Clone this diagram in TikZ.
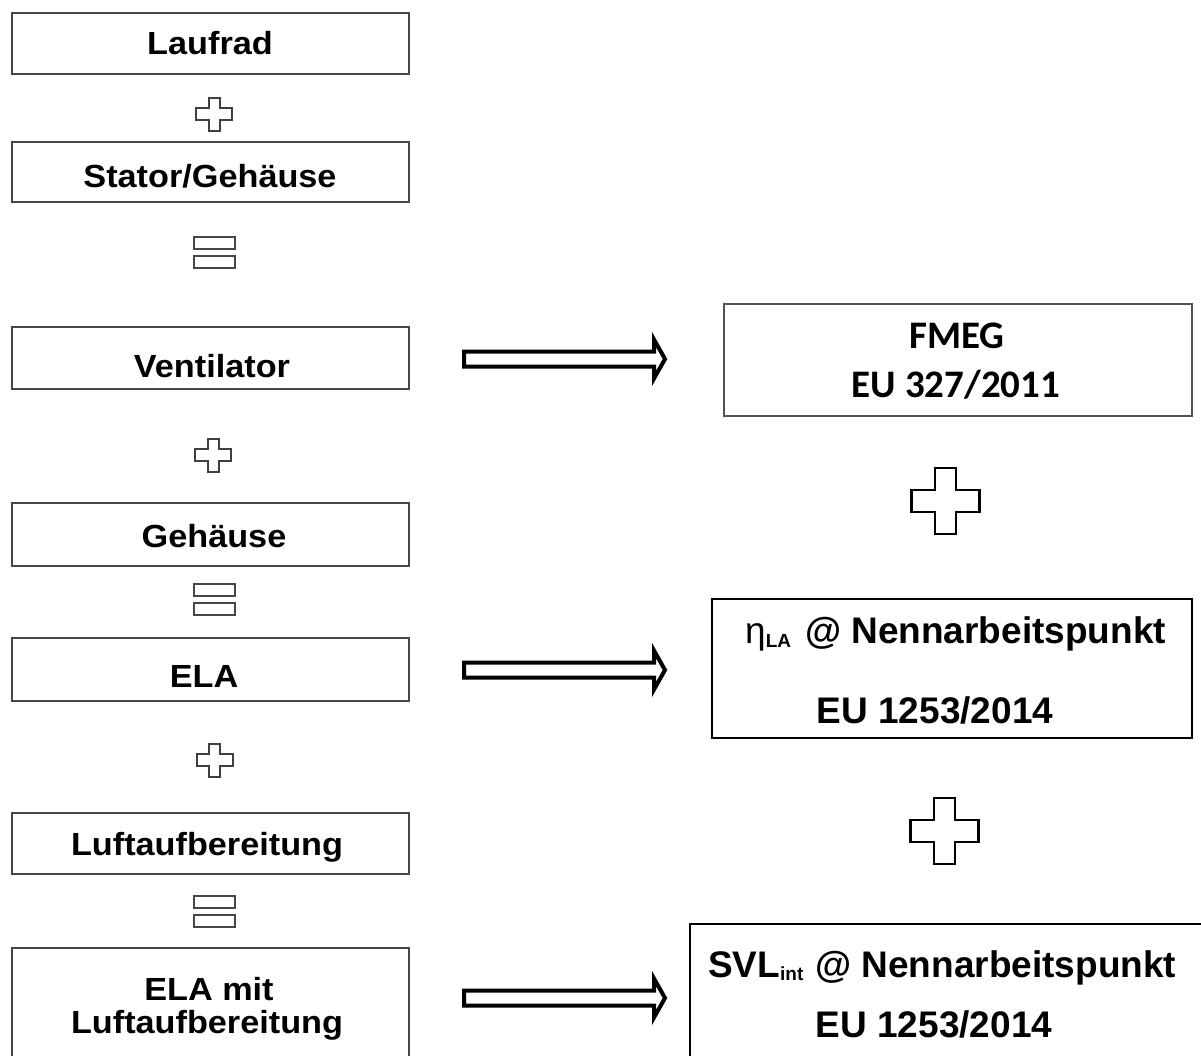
\documentclass[tikz,border=0pt]{standalone}
\usepackage{fontspec}
\setmainfont{Liberation Sans}
\newfontfamily\leftfont{Liberation Sans}[FakeStretch=1.07]
\newfontfamily\calfont{Carlito}
\usetikzlibrary{calc}
\tikzset{
  lbox/.style={draw=black!72, line width=2pt, minimum width=397pt, inner sep=0pt},
  rbox/.style={draw=black, line width=2pt, inner sep=0pt},
  fbox/.style={draw=black!68, line width=2.5pt, inner sep=0pt},
  ltext/.style={anchor=base, inner sep=0pt, font=\leftfont\bfseries\fontsize{32}{34}\selectfont},
  rtext/.style={inner sep=0pt, font=\bfseries\fontsize{37}{40}\selectfont},
  ftext/.style={anchor=base, inner sep=0pt, font=\calfont\bfseries\fontsize{39}{42}\selectfont},
  splusline/.style={draw=black!75, line width=2pt, line join=miter},
  bplusline/.style={draw=black, line width=2.6pt, line join=miter},
  eqline/.style={draw=black!72, line width=2pt},
  arrowline/.style={draw=black, line width=4pt, line join=miter},
  smallplus/.pic={\path[splusline] (-5.5,-16.5) -- (5.5,-16.5) -- (5.5,-6) -- (18,-6) -- (18,6) -- (5.5,6) -- (5.5,16.5) -- (-5.5,16.5) -- (-5.5,6) -- (-18,6) -- (-18,-6) -- (-5.5,-6) -- cycle;},
  bigplus/.pic={\path[bplusline] (-10.5,-33) -- (10.5,-33) -- (10.5,-11) -- (34,-11) -- (34,11) -- (10.5,11) -- (10.5,33) -- (-10.5,33) -- (-10.5,11) -- (-34,11) -- (-34,-11) -- (-10.5,-11) -- cycle;},
  eqsign/.pic={\path[eqline] (-20.5,-15.5) rectangle (20.5,-3.5) (-20.5,3.5) rectangle (20.5,15.5);}
}
\newcommand\BlockArrow[2]{%
  \path[arrowline] let \p1=(#1), \p2=(#2) in
    (\x1,\y1+7.5) -- (\x2-11,\y1+7.5) -- (\x2-11,\y1+19.5) -- (\x2,\y1)
    -- (\x2-11,\y1-19.5) -- (\x2-11,\y1-7.5) -- (\x1,\y1-7.5) -- cycle;}
\begin{document}
\begin{tikzpicture}[x=1pt,y=-1pt]
\clip (0,0) rectangle (1201,1056);
\fill[white] (0,0) rectangle (1201,1056);

% left column boxes
\node[lbox, minimum height=61pt] (laufrad) at (210.5,43.5) {};
\node[lbox, minimum height=60pt] (stator) at (210.5,172) {};
\node[lbox, minimum height=62pt] (vent) at (210.5,358) {};
\node[lbox, minimum height=63pt] (geh) at (210.5,534.5) {};
\node[lbox, minimum height=63pt] (ela) at (210.5,669.5) {};
\node[lbox, minimum height=61pt] (luft) at (210.5,843.5) {};
\node[lbox, minimum height=150pt] (elamit) at (210.5,1023) {};

\node[ltext] (tlaufrad) at (210,55) {Laufrad};
\node[ltext] (tstator) at (210,188) {Stator/Gehäuse};
\node[ltext] (tvent) at (212,377) {Ventilator};
\node[ltext] (tgeh) at (214,547) {Gehäuse};
\node[ltext] (tela) at (204,687) {ELA};
\node[ltext] (tluft) at (207,855) {Luftaufbereitung};
\node[ltext] (telamit1) at (209,1000) {ELA mit};
\node[ltext] (telamit2) at (207,1033) {Luftaufbereitung};

% operators left
\pic at (214,114.5) {smallplus};
\pic at (214.5,252.5) {eqsign};
\pic at (213,455) {smallplus};
\pic at (214.5,599.5) {eqsign};
\pic at (214.5,760) {smallplus};
\pic at (214.5,911) {eqsign};

% right boxes
\node[fbox, minimum width=468pt, minimum height=112pt] (fmeg) at (958,360) {};
\node[ftext] (tfmeg1) at (957,348) {FMEG};
\node[ftext] (tfmeg2) at (956,397) {EU 327/2011};

\node[rbox, minimum width=480pt, minimum height=139pt] (eta) at (952,668.5) {};
\node[rtext, anchor=base west] (teta1) at (745,643) {{\mdseries η}\raisebox{-4pt}{\fontsize{19}{19}\selectfont LA}\hspace{14pt}@ Nennarbeitspunkt};
\node[rtext, anchor=base] (teta2) at (935,723) {EU 1253/2014};

\node[rbox, minimum width=524pt, minimum height=144pt] (svl) at (952,996) {};
\node[rtext, anchor=base west] (tsvl1) at (708,977) {SVL\raisebox{-3pt}{\fontsize{19}{19}\selectfont int}\hspace{12pt}@ Nennarbeitspunkt};
\node[rtext, anchor=base] (tsvl2) at (934,1037) {EU 1253/2014};

% big pluses
\pic at (945.5,501) {bigplus};
\pic at (944.5,831) {bigplus};

% arrows
\coordinate (a1s) at (464,359);
\coordinate (a1e) at (665,359);
\coordinate (a2s) at (464,670);
\coordinate (a2e) at (665,670);
\coordinate (a3s) at (464,998);
\coordinate (a3e) at (665,998);
\BlockArrow{a1s}{a1e}
\BlockArrow{a2s}{a2e}
\BlockArrow{a3s}{a3e}
\end{tikzpicture}
\end{document}
